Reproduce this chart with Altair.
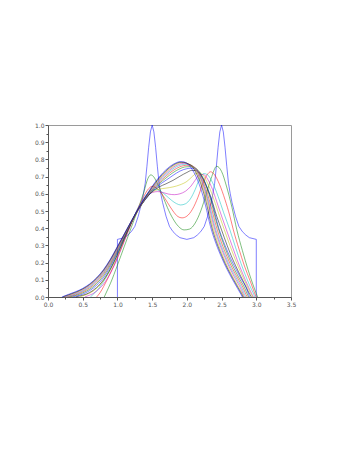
import altair as alt
import pandas as pd

# ---- data (x, y) ----
initial = [(1.0, 0.0), (1.0, 0.335), (1.1, 0.345), (1.15, 0.36), (1.2, 0.38), (1.25, 0.41),
           (1.3, 0.47), (1.325, 0.51), (1.35, 0.55), (1.375, 0.60), (1.4, 0.66), (1.425, 0.76),
           (1.45, 0.87), (1.475, 0.96), (1.5, 1.0), (1.525, 0.96), (1.55, 0.87), (1.575, 0.76),
           (1.6, 0.66), (1.625, 0.60), (1.65, 0.55), (1.675, 0.51), (1.7, 0.47), (1.75, 0.41),
           (1.8, 0.38), (1.85, 0.36), (1.9, 0.345), (2.0, 0.335), (2.1, 0.345), (2.15, 0.36),
           (2.2, 0.38), (2.25, 0.41), (2.3, 0.47), (2.325, 0.51), (2.35, 0.55), (2.375, 0.60),
           (2.4, 0.66), (2.425, 0.76), (2.45, 0.87), (2.475, 0.96), (2.5, 1.0), (2.525, 0.96),
           (2.55, 0.87), (2.575, 0.76), (2.6, 0.66), (2.625, 0.60), (2.65, 0.55), (2.675, 0.51),
           (2.7, 0.47), (2.75, 0.41), (2.8, 0.38), (2.85, 0.36), (2.9, 0.345), (3.0, 0.335),
           (3.0, 0.0)]

c01 = [(0.81, 0), (0.85, .035), (0.9, .08), (1.0, .185), (1.1, .295), (1.2, .405), (1.3, .515),
       (1.38, .61), (1.44, .69), (1.48, .71), (1.52, .70), (1.58, .655), (1.65, .59), (1.72, .52),
       (1.8, .455), (1.88, .41), (1.96, .39), (2.04, .395), (2.12, .43), (2.2, .50), (2.28, .60),
       (2.35, .69), (2.43, .76), (2.5, .73), (2.57, .645), (2.65, .52), (2.72, .39), (2.8, .27),
       (2.88, .16), (2.95, .075), (3.0, .02), (3.02, 0)]
c02 = [(0.70, 0), (0.75, .025), (0.8, .06), (0.9, .14), (1.0, .23), (1.1, .33), (1.2, .43), (1.3, .52),
       (1.38, .585), (1.45, .63), (1.5, .643), (1.56, .635), (1.64, .60), (1.72, .55), (1.8, .50),
       (1.87, .468), (1.93, .46), (2.0, .47), (2.08, .51), (2.16, .58), (2.24, .67), (2.3, .715),
       (2.34, .728), (2.4, .71), (2.47, .655), (2.55, .565), (2.62, .47), (2.67, .39), (2.75, .28),
       (2.83, .18), (2.91, .095), (2.96, .04), (2.99, .008), (3.0, 0)]
c03 = [(0.61, 0), (0.65, .015), (0.7, .035), (0.8, .09), (0.9, .16), (1.0, .245), (1.1, .34), (1.2, .435),
       (1.3, .52), (1.4, .585), (1.47, .615), (1.55, .625), (1.62, .615), (1.7, .59), (1.78, .562),
       (1.85, .543), (1.91, .535), (1.98, .542), (2.05, .57), (2.12, .625), (2.18, .685), (2.24, .718),
       (2.3, .71), (2.37, .665), (2.45, .585), (2.53, .49), (2.62, .39), (2.7, .29), (2.78, .195),
       (2.86, .11), (2.93, .045), (2.97, .01), (2.98, 0)]
c04 = [(0.53, 0), (0.58, .008), (0.65, .02), (0.7, .035), (0.8, .075), (0.9, .14), (1.0, .225), (1.1, .325),
       (1.2, .425), (1.3, .515), (1.4, .578), (1.5, .607), (1.58, .613), (1.66, .607), (1.74, .598),
       (1.82, .595), (1.9, .60), (1.98, .615), (2.06, .645), (2.13, .685), (2.19, .712), (2.24, .712),
       (2.3, .685), (2.37, .625), (2.45, .53), (2.57, .39), (2.65, .30), (2.73, .21), (2.81, .13),
       (2.88, .065), (2.94, .015), (2.96, 0)]
c05 = [(0.46, 0), (0.5, .006), (0.6, .022), (0.7, .05), (0.8, .095), (0.9, .16), (1.0, .24), (1.1, .335),
       (1.2, .43), (1.3, .51), (1.4, .572), (1.5, .61), (1.6, .627), (1.7, .633), (1.8, .64), (1.9, .652),
       (2.0, .672), (2.07, .697), (2.13, .718), (2.18, .722), (2.24, .705), (2.3, .66), (2.37, .59),
       (2.45, .495), (2.54, .39), (2.62, .30), (2.7, .215), (2.78, .14), (2.86, .07), (2.92, .02), (2.95, 0)]
c06 = [(0.40, 0), (0.45, .005), (0.5, .01), (0.6, .026), (0.7, .055), (0.8, .10), (0.9, .165), (1.0, .248),
       (1.1, .34), (1.2, .432), (1.3, .51), (1.4, .567), (1.5, .612), (1.6, .64), (1.7, .658), (1.8, .678),
       (1.9, .702), (2.0, .724), (2.07, .736), (2.13, .735), (2.2, .708), (2.27, .655), (2.35, .575),
       (2.43, .47), (2.5, .39), (2.58, .30), (2.66, .22), (2.74, .15), (2.82, .085), (2.88, .035), (2.93, 0)]
c07 = [(0.35, 0), (0.4, .004), (0.5, .017), (0.6, .037), (0.7, .068), (0.8, .113), (0.9, .177), (1.0, .258),
       (1.1, .346), (1.2, .434), (1.3, .51), (1.4, .565), (1.5, .614), (1.6, .651), (1.7, .679), (1.8, .707),
       (1.9, .732), (2.0, .746), (2.06, .749), (2.12, .744), (2.2, .715), (2.28, .65), (2.36, .555),
       (2.46, .40), (2.55, .30), (2.63, .225), (2.71, .16), (2.79, .10), (2.86, .05), (2.89, .015), (2.91, 0)]
c08 = [(0.31, 0), (0.35, .004), (0.4, .009), (0.5, .024), (0.6, .045), (0.7, .078), (0.8, .124), (0.9, .187),
       (1.0, .266), (1.1, .35), (1.2, .431), (1.3, .504), (1.4, .567), (1.5, .619), (1.6, .659), (1.7, .692),
       (1.8, .723), (1.9, .746), (1.97, .756), (2.04, .758), (2.1, .754), (2.18, .728), (2.26, .665),
       (2.34, .57), (2.43, .43), (2.52, .318), (2.6, .235), (2.68, .165), (2.76, .105), (2.83, .055),
       (2.87, .017), (2.89, 0)]
c09 = [(0.28, 0), (0.3, .002), (0.4, .013), (0.5, .03), (0.6, .053), (0.7, .087), (0.8, .134), (0.9, .196),
       (1.0, .273), (1.1, .355), (1.2, .434), (1.3, .506), (1.4, .57), (1.5, .623), (1.6, .666), (1.7, .703),
       (1.8, .735), (1.9, .757), (2.0, .766), (2.1, .757), (2.18, .718), (2.26, .645), (2.34, .54),
       (2.42, .415), (2.5, .315), (2.58, .233), (2.66, .163), (2.74, .104), (2.81, .054), (2.85, .016),
       (2.87, 0)]
c10 = [(0.26, 0), (0.3, .004), (0.4, .017), (0.5, .035), (0.6, .059), (0.7, .094), (0.8, .141), (0.9, .203),
       (1.0, .279), (1.1, .359), (1.2, .436), (1.3, .508), (1.4, .572), (1.5, .627), (1.6, .673), (1.7, .712),
       (1.8, .745), (1.9, .766), (1.99, .772), (2.1, .757), (2.18, .71), (2.26, .63), (2.33, .53),
       (2.4, .415), (2.48, .315), (2.56, .233), (2.64, .163), (2.72, .104), (2.79, .054), (2.83, .016),
       (2.85, 0)]
c11 = [(0.24, 0), (0.3, .007), (0.4, .021), (0.5, .04), (0.6, .065), (0.7, .10), (0.8, .147), (0.9, .209),
       (1.0, .284), (1.1, .362), (1.2, .438), (1.3, .51), (1.4, .575), (1.5, .631), (1.6, .679), (1.7, .72),
       (1.8, .753), (1.88, .771), (1.96, .777), (2.08, .762), (2.16, .72), (2.24, .645), (2.31, .545),
       (2.38, .425), (2.46, .322), (2.54, .238), (2.62, .166), (2.7, .105), (2.77, .055), (2.81, .018),
       (2.83, 0)]
c12 = [(0.22, 0), (0.3, .01), (0.4, .025), (0.5, .044), (0.6, .07), (0.7, .105), (0.8, .152), (0.9, .214),
       (1.0, .288), (1.1, .364), (1.2, .44), (1.3, .511), (1.4, .577), (1.5, .635), (1.6, .685), (1.7, .727),
       (1.8, .76), (1.87, .776), (1.93, .782), (2.07, .765), (2.15, .72), (2.23, .64), (2.3, .54),
       (2.36, .43), (2.44, .322), (2.52, .237), (2.6, .165), (2.68, .104), (2.75, .054), (2.8, .017),
       (2.82, 0)]
c13 = [(0.21, 0), (0.3, .013), (0.4, .028), (0.5, .047), (0.6, .073), (0.7, .109), (0.8, .156), (0.9, .218),
       (1.0, .291), (1.1, .366), (1.2, .441), (1.3, .512), (1.4, .579), (1.5, .639), (1.6, .691), (1.7, .734),
       (1.8, .766), (1.86, .779), (1.92, .784), (2.06, .765), (2.14, .715), (2.22, .635), (2.29, .53),
       (2.35, .42), (2.43, .315), (2.51, .233), (2.59, .162), (2.67, .102), (2.74, .052), (2.79, .016),
       (2.81, 0)]
c14 = [(0.20, 0), (0.3, .016), (0.4, .031), (0.5, .05), (0.6, .076), (0.7, .112), (0.8, .159), (0.9, .221),
       (1.0, .294), (1.1, .368), (1.2, .442), (1.3, .513), (1.4, .581), (1.5, .643), (1.6, .697), (1.7, .74),
       (1.8, .771), (1.85, .781), (1.9, .787), (1.96, .785), (2.04, .762), (2.12, .71), (2.2, .63),
       (2.27, .53), (2.34, .41), (2.42, .31), (2.5, .23), (2.58, .16), (2.66, .10), (2.73, .05),
       (2.78, .015), (2.80, 0)]

curves = [c01, c02, c03, c04, c05, c06, c07, c08, c09, c10, c11, c12, c13, c14]
cycle = ["#0000ff", "#008000", "#ff0000", "#00bfbf", "#bf00bf", "#bfbf00", "#000000"]

x_axis_values = [0.0, 0.25, 0.5, 0.75, 1.0, 1.25, 1.5, 1.75, 2.0, 2.25, 2.5, 2.75, 3.0, 3.25, 3.5]
y_axis_values = [0.0, 0.05, 0.1, 0.15, 0.2, 0.25, 0.3, 0.35, 0.4, 0.45, 0.5,
                 0.55, 0.6, 0.65, 0.7, 0.75, 0.8, 0.85, 0.9, 0.95, 1.0]

# ---- build tables ----
rows0 = [{"curve": "c00", "i": i, "x": p[0], "y": p[1]} for i, p in enumerate(initial)]
rows = []
for k, c in enumerate(curves, start=1):
    for i, p in enumerate(c):
        rows.append({"curve": "c%02d" % k, "i": i, "x": p[0], "y": p[1]})
df0 = pd.DataFrame(rows0)
df = pd.DataFrame(rows)

ids = ["c%02d" % k for k in range(0, 15)]
colors = [cycle[k % 7] for k in range(0, 15)]

xscale = alt.Scale(domain=[0, 3.5], nice=False, zero=False)
yscale = alt.Scale(domain=[0, 1], nice=False, zero=False)
cscale = alt.Scale(domain=ids, range=colors)

xaxis = alt.Axis(values=x_axis_values, title=None, grid=False,
                 labelExpr="abs(datum.value*2 - round(datum.value*2)) < 0.001 ? format(datum.value, '.1f') : ''",
                 tickSize={"condition": {"test": "abs(datum.value*2 - round(datum.value*2)) < 0.001", "value": 3}, "value": 2},
                 labelOverlap=False, labelFlush=False, labelPadding=1)
yaxis = alt.Axis(values=y_axis_values, title=None, grid=False,
                 labelExpr="abs(datum.value*10 - round(datum.value*10)) < 0.001 ? format(datum.value, '.1f') : ''",
                 tickSize={"condition": {"test": "abs(datum.value*10 - round(datum.value*10)) < 0.001", "value": 3}, "value": 2},
                 labelOverlap=False, labelFlush=False, labelPadding=1)

base0 = alt.Chart(df0).mark_line(strokeWidth=1, opacity=0.5, interpolate="linear").encode(
    x=alt.X("x:Q", scale=xscale, axis=xaxis),
    y=alt.Y("y:Q", scale=yscale, axis=yaxis),
    color=alt.Color("curve:N", scale=cscale, legend=None),
    order=alt.Order("i:Q"),
)
lines = alt.Chart(df).mark_line(strokeWidth=1, opacity=0.5, interpolate="monotone").encode(
    x=alt.X("x:Q", scale=xscale, axis=xaxis),
    y=alt.Y("y:Q", scale=yscale, axis=yaxis),
    color=alt.Color("curve:N", scale=cscale, legend=None),
    order=alt.Order("i:Q"),
)

chart = alt.layer(base0, lines).properties(
    width=243, height=172,
    autosize=alt.AutoSizeParams(type="none"),
    padding={"left": 40, "top": 117, "right": 50, "bottom": 146},
).configure_view(
    stroke="#9a9a9a", strokeWidth=1
).configure_axis(
    domainColor="#555555", tickColor="#555555", labelColor="#555555",
    labelFont="DejaVu Sans", labelFontSize=6, domainWidth=1, tickWidth=1
)

chart.save("out.html", embed_options={"renderer": "svg", "actions": False})
